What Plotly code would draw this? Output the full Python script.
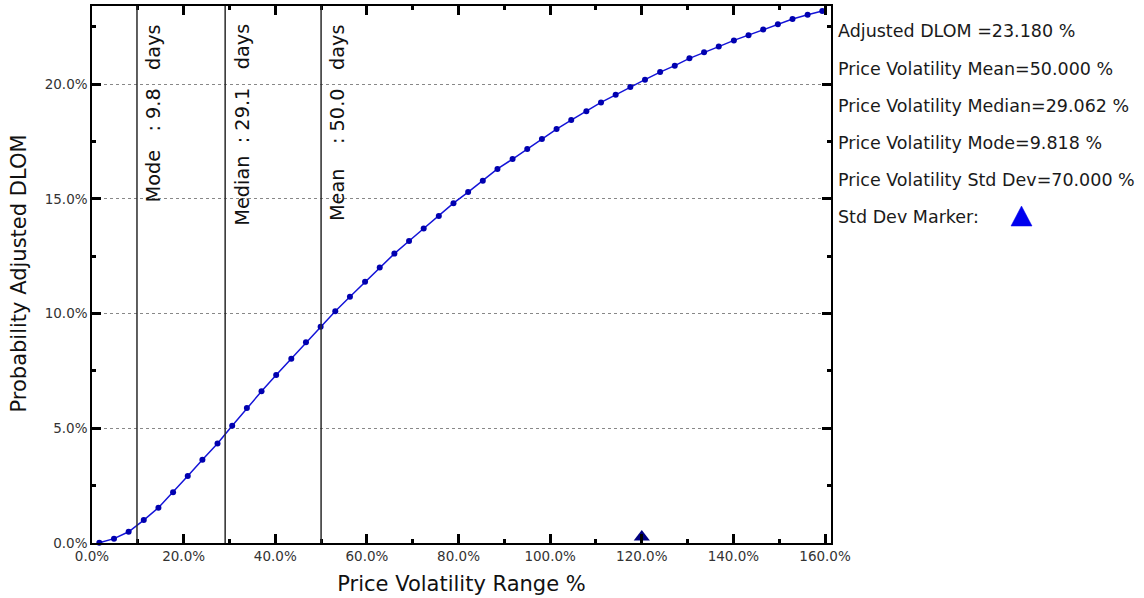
import plotly.graph_objects as go

# ---- data ----
vol_range = [1.6, 4.8, 8.0, 11.3, 14.5, 17.7, 20.9, 24.1, 27.4, 30.6, 33.8, 37.0, 40.2, 43.5,
             46.7, 49.9, 53.1, 56.3, 59.6, 62.8, 66.0, 69.2, 72.4, 75.7, 78.9, 82.1, 85.3, 88.5,
             91.8, 95.0, 98.2, 101.4, 104.6, 107.9, 111.1, 114.3, 117.5, 120.7, 124.0, 127.2,
             130.4, 133.6, 136.8, 140.1, 143.3, 146.5, 149.7, 152.9, 156.2, 159.4]
dlom = [0.01, 0.19, 0.49, 1.00, 1.54, 2.21, 2.92, 3.63, 4.34, 5.11, 5.88, 6.61, 7.32, 8.03,
        8.75, 9.42, 10.10, 10.73, 11.38, 12.01, 12.61, 13.16, 13.70, 14.25, 14.81, 15.29, 15.79,
        16.30, 16.73, 17.17, 17.60, 18.04, 18.43, 18.81, 19.20, 19.53, 19.87, 20.19, 20.52,
        20.80, 21.12, 21.39, 21.63, 21.90, 22.13, 22.38, 22.61, 22.83, 23.02, 23.18]

adjusted_dlom = 23.180
vol_mean = 50.000
vol_median = 29.062
vol_mode = 9.818
vol_std = 70.000
std_marker_x = [120.0]
std_marker_y = [0.0]

x_ticks = [0, 20, 40, 60, 80, 100, 120, 140, 160]
y_ticks = [0, 5, 10, 15, 20]

NB = "\u00a0"
# (label, value, spaces before colon, spaces after colon, spaces before 'days')
stat_lines = [("Mode", vol_mode, 3, 1, 3), ("Median", vol_median, 2, 1, 3), ("Mean", vol_mean, 4, 1, 3)]
info_lines = [
    f"Adjusted DLOM ={adjusted_dlom:.3f} %",
    f"Price Volatility Mean={vol_mean:.3f} %",
    f"Price Volatility Median={vol_median:.3f} %",
    f"Price Volatility Mode={vol_mode:.3f} %",
    f"Price Volatility Std Dev={vol_std:.3f} %",
    "Std Dev Marker:",
]
x_title = "Price Volatility Range %"
y_title = "Probability Adjusted DLOM"

FONT = "DejaVu Sans"
W, H = 1144, 598
ML, MR, MT, MB = 92, 313, 6, 55
PW, PH = W - ML - MR, H - MT - MB

fig = go.Figure()
fig.add_trace(go.Scatter(
    x=vol_range, y=dlom, mode="lines+markers",
    line=dict(color="#1414d8", width=1.5),
    marker=dict(color="#0000b0", size=6),
    showlegend=False, cliponaxis=False, hoverinfo="skip",
))
fig.add_trace(go.Scatter(
    x=std_marker_x, y=std_marker_y, mode="markers",
    marker=dict(symbol="triangle-down", angle=180, standoff=6, size=14, color="#000080"),
    showlegend=False, cliponaxis=False, hoverinfo="skip",
))

for label, val, s1, s2, s3 in stat_lines:
    fig.add_shape(type="line", xref="x", yref="paper", x0=val, x1=val, y0=0, y1=1,
                  line=dict(color="#2a2a2a", width=1.5))
    txt = f"{label}{NB*s1}:{NB*s2}{val:.1f}{NB*s3}days"
    fig.add_annotation(
        x=val, xref="x", y=1, yref="paper", xanchor="left", yanchor="top",
        text=txt, textangle=-90,
        showarrow=False, xshift=3, yshift=-16,
        font=dict(family=FONT, size=19.3, color="#111"),
    )

ys_px = [31, 69, 106, 143, 180, 217]
for t, py in zip(info_lines, ys_px):
    fig.add_annotation(
        x=1, xref="paper", y=(H - MB - py) / PH, yref="paper", xanchor="left", yanchor="middle",
        text=t, showarrow=False, xshift=5,
        font=dict(family=FONT, size=17.5, color="#1a1a1a"),
    )

# y-axis title placed as annotation for exact position
fig.add_annotation(
    x=0, xref="paper", y=0.5, yref="paper", xanchor="center", yanchor="middle",
    text=y_title, textangle=-90, showarrow=False, xshift=18 - ML, yshift=1,
    font=dict(family=FONT, size=21, color="#111"),
)

# legend key triangle for std dev marker (paper coords)
def px2paper(px, py):
    return (px - ML) / PW, (H - MB - py) / PH
a = px2paper(1011, 226)
b = px2paper(1032, 226)
c = px2paper(1021.5, 206)
fig.add_shape(type="path", xref="paper", yref="paper",
              path=f"M {a[0]},{a[1]} L {b[0]},{b[1]} L {c[0]},{c[1]} Z",
              fillcolor="#0000ee", line=dict(color="#0000ee", width=0.5))

axis_common = dict(
    showline=True, linecolor="black", linewidth=1.5, mirror="allticks",
    ticks="inside", ticklen=9, tickwidth=2.5, tickcolor="black",
    tickfont=dict(family=FONT, size=13.5, color="#333"),
    tickmode="array", zeroline=False,
)

fig.update_xaxes(
    range=[0, 161.3], tickvals=x_ticks, ticktext=[f"{v:.1f}%" for v in x_ticks], showgrid=False,
    minor=dict(ticks="inside", ticklen=4, tickwidth=2.5, tickcolor="black", dtick=10, tick0=0, showgrid=False),
    title=dict(text=x_title, font=dict(family=FONT, size=21, color="#111"), standoff=13),
    **axis_common,
)
fig.update_yaxes(
    range=[0, 23.4], tickvals=y_ticks, ticktext=[f"{v:.1f}%" for v in y_ticks],
    showgrid=True, gridcolor="#888", griddash="dot", gridwidth=1,
    minor=dict(ticks="inside", ticklen=4, tickwidth=2.5, tickcolor="black", dtick=2.5, tick0=0, showgrid=False),
    **axis_common,
)

fig.update_layout(
    width=W, height=H,
    margin=dict(l=ML, r=MR, t=MT, b=MB, autoexpand=False),
    plot_bgcolor="white", paper_bgcolor="white",
    font=dict(family=FONT), hovermode=False,
)

fig.write_html("out.html", config={"displayModeBar": False},
               post_script="document.body.style.margin='0';document.body.style.overflow='hidden';")
